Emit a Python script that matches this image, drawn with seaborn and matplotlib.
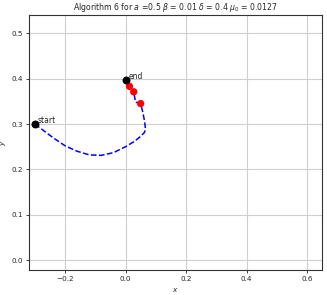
import matplotlib
matplotlib.use("Agg")
import matplotlib.pyplot as plt
import seaborn as sns
import pandas as pd

# trajectory
path_x = [-0.300, -0.270, -0.240, -0.200, -0.160, -0.120, -0.080, -0.040, 0.000,
          0.030, 0.050, 0.062, 0.066, 0.063, 0.057, 0.050, 0.040, 0.033, 0.027,
          0.020, 0.013, 0.006, 0.002]
path_y = [0.300, 0.285, 0.270, 0.252, 0.240, 0.232, 0.231, 0.237, 0.250,
          0.262, 0.273, 0.281, 0.288, 0.306, 0.326, 0.345, 0.347, 0.348, 0.371,
          0.377, 0.383, 0.390, 0.397]

red_x = [0.050, 0.027, 0.013]
red_y = [0.345, 0.371, 0.383]

start = (-0.300, 0.300)
end = (0.002, 0.397)

df = pd.DataFrame({"x": path_x, "y": path_y})
pts = pd.DataFrame({"x": red_x, "y": red_y})

sns.set_style("ticks", {"axes.grid": True, "grid.color": "#cfcfcf"})

fig = plt.figure(figsize=(3.27, 2.95), dpi=100)
ax = fig.add_axes([0.089, 0.084, 0.896, 0.865])

sns.lineplot(data=df, x="x", y="y", sort=False, estimator=None, ax=ax,
             color="blue", linestyle="--", linewidth=1.1)
sns.scatterplot(data=pts, x="x", y="y", ax=ax, color="red", s=28,
                edgecolor="none", zorder=3)
ax.scatter([start[0], end[0]], [start[1], end[1]], color="black", s=22, zorder=4)
ax.text(start[0] + 0.008, start[1] + 0.002, "start", fontsize=5.5)
ax.text(end[0] + 0.008, end[1] + 0.002, "end", fontsize=5.5)

ax.set_xlim(-0.319, 0.65)
ax.set_ylim(-0.022, 0.54)
ax.set_xticks([-0.2, 0.0, 0.2, 0.4, 0.6])
ax.set_yticks([0.0, 0.1, 0.2, 0.3, 0.4, 0.5])
ax.tick_params(labelsize=5.2, length=2.5, width=0.6, pad=2)
for s in ax.spines.values():
    s.set_linewidth(0.8)
    s.set_color("#333333")

ax.set_xlabel("$x$", fontsize=5.2)
ax.set_ylabel("$y$", fontsize=5.2)
ax.xaxis.set_label_coords(0.5, -0.062)
ax.yaxis.set_label_coords(-0.072, 0.5)
ax.set_title(r"Algorithm 6 for $a$ =0.5 $\beta$ = 0.01 $\delta$ = 0.4 $\mu_0$ = 0.0127",
             fontsize=5.6, pad=3.5)

fig.savefig("out.png", dpi=100)
